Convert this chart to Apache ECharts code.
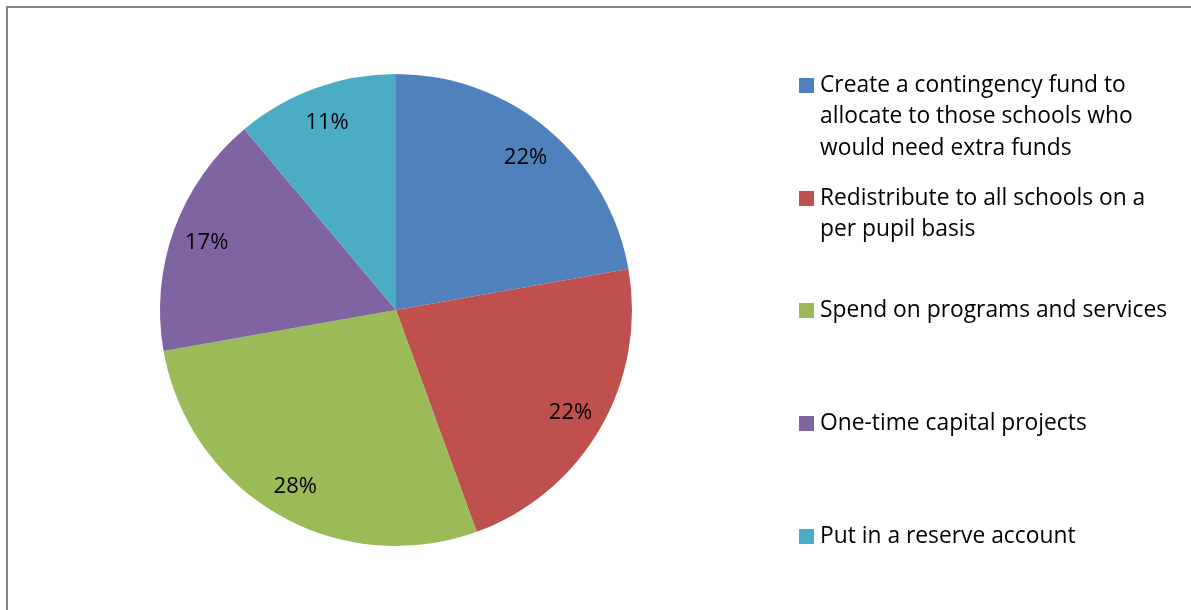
<!DOCTYPE html>
<html>
<head>
<meta charset="utf-8">
<script src="https://cdn.jsdelivr.net/npm/echarts@6/dist/echarts.min.js"></script>
<style>
html,body{margin:0;padding:0;background:#fff;}
#chart{width:1191px;height:610px;}
</style>
</head>
<body>
<div id="chart"></div>
<script>
const categories = [
  'Create a contingency fund to allocate to those schools who would need extra funds',
  'Redistribute to all schools on a per pupil basis',
  'Spend on programs and services',
  'One-time capital projects',
  'Put in a reserve account'
];
const legendLabels = [
  'Create a contingency fund to\nallocate to those schools who\nwould need extra funds',
  'Redistribute to all schools on a\nper pupil basis',
  'Spend on programs and services',
  'One-time capital projects',
  'Put in a reserve account'
];
const values = [20, 20, 25, 15, 10];
const colors = ['#4F81BD', '#C0504D', '#9BBB59', '#8064A2', '#4BACC6'];

const FONT = 'Open Sans';
const LH = 31.5;
const total = values.reduce((a, b) => a + b, 0);
const pieData = categories.map((c, i) => ({ name: c, value: values[i], itemStyle: { color: colors[i] } }));
const labelData = categories.map((c, i) => ({ name: c, value: values[i] }));

const iconCenters = [85.5, 198.5, 310.5, 423.5, 536.5];
const legends = categories.map((c, i) => {
  const lines = legendLabels[i].split('\n').length;
  const spacer = (lines - 1) * LH;
  const boxH = lines * LH + spacer;
  return {
    data: [c],
    orient: 'vertical',
    left: 799,
    top: iconCenters[i] - boxH / 2,
    padding: 0,
    itemWidth: 15,
    itemHeight: 15,
    itemGap: 0,
    icon: 'rect',
    selectedMode: false,
    formatter: () => (spacer > 0 ? '{sp| }\n' : '') + legendLabels[i],
    textStyle: {
      fontFamily: FONT, fontSize: 22.8, color: '#000', lineHeight: LH,
      padding: [0, 0, 0, 1],
      rich: { sp: { fontSize: 10, lineHeight: spacer, height: spacer } }
    }
  };
});

const chart = echarts.init(document.getElementById('chart'), null, { renderer: 'canvas' });
chart.setOption({
  backgroundColor: '#fff',
  animation: false,
  legend: legends,
  graphic: [{
    type: 'polyline',
    shape: { points: [[7, 610], [7, 7], [1191, 7]] },
    style: { stroke: '#868686', lineWidth: 2, fill: null },
    silent: true
  }],
  series: [{
    type: 'pie',
    center: [396, 310],
    radius: [0, 236],
    startAngle: 90,
    clockwise: true,
    avoidLabelOverlap: false,
    label: { show: false },
    labelLine: { show: false },
    itemStyle: { borderWidth: 0 },
    emphasis: { disabled: true },
    data: pieData
  }, {
    type: 'pie',
    center: [396, 312],
    radius: [161, 236],
    startAngle: 90,
    clockwise: true,
    silent: true,
    avoidLabelOverlap: false,
    itemStyle: { color: 'rgba(0,0,0,0)', borderWidth: 0 },
    label: {
      show: true, position: 'inside',
      fontFamily: FONT, fontSize: 22, color: '#000',
      formatter: p => Math.round(p.value / total * 100) + '%'
    },
    labelLine: { show: false },
    emphasis: { disabled: true },
    data: labelData
  }]
});
</script>
</body>
</html>
